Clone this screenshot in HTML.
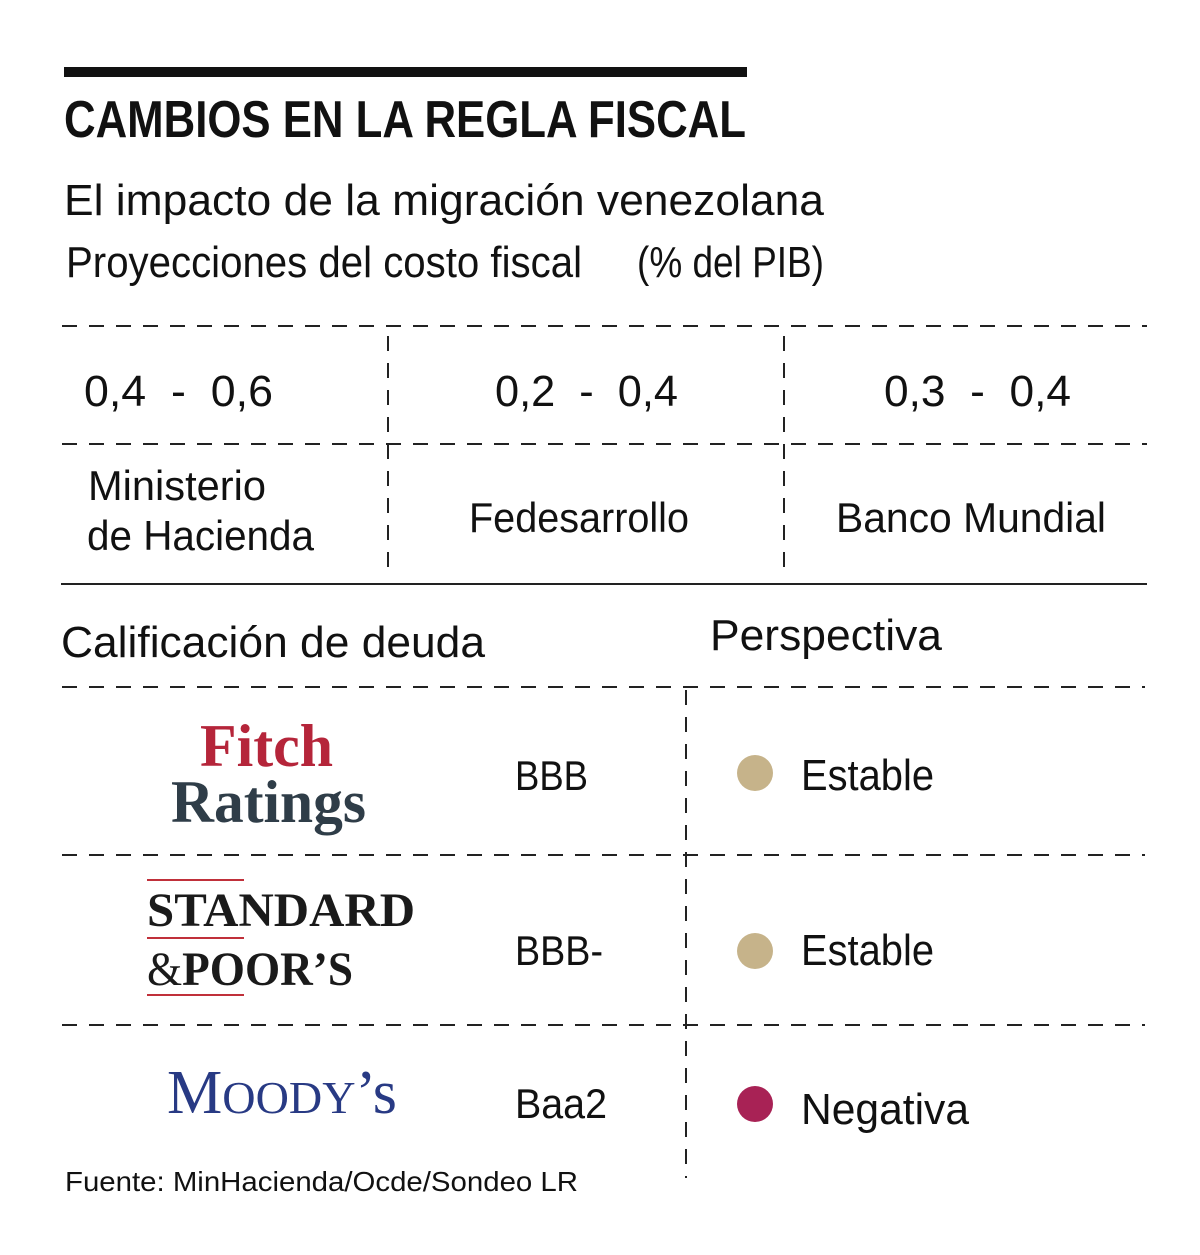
<!DOCTYPE html>
<html><head><meta charset="utf-8"><style>
html,body{margin:0;padding:0;background:#fff;}
svg{display:block;}
.s{font-family:"Liberation Sans",sans-serif;fill:#111;}
.sf{font-family:"Liberation Serif",serif;font-weight:bold;}
.d{stroke:#222;stroke-width:2;stroke-dasharray:15 12;}
</style></head><body>
<svg width="1200" height="1255" viewBox="0 0 1200 1255">
<rect x="64" y="67" width="683" height="10" fill="#111"/>
<text class="s" x="64" y="137" font-size="52" font-weight="bold" textLength="682" lengthAdjust="spacingAndGlyphs">CAMBIOS EN LA REGLA FISCAL</text>
<text class="s" x="64" y="215" font-size="44" textLength="760" lengthAdjust="spacingAndGlyphs">El impacto de la migración venezolana</text>
<text class="s" x="66" y="277" font-size="44" fill="#222" textLength="516" lengthAdjust="spacingAndGlyphs">Proyecciones del costo fiscal</text>
<text class="s" x="637" y="277" font-size="44" fill="#222" textLength="187" lengthAdjust="spacingAndGlyphs">(% del PIB)</text>

<line class="d" x1="62" y1="326" x2="1147" y2="326"/>
<line class="d" x1="62" y1="444" x2="1147" y2="444"/>
<line x1="61" y1="584" x2="1147" y2="584" stroke="#222" stroke-width="2"/>
<line class="d" x1="388" y1="336" x2="388" y2="574"/>
<line class="d" x1="784" y1="336" x2="784" y2="574"/>

<text class="s" x="84" y="406" font-size="44" xml:space="preserve" textLength="189" lengthAdjust="spacingAndGlyphs">0,4  -  0,6</text>
<text class="s" x="495" y="406" font-size="44" xml:space="preserve" textLength="183" lengthAdjust="spacingAndGlyphs">0,2  -  0,4</text>
<text class="s" x="884" y="406" font-size="44" xml:space="preserve" textLength="187" lengthAdjust="spacingAndGlyphs">0,3  -  0,4</text>

<text class="s" x="88" y="500" font-size="42" fill="#222" textLength="178" lengthAdjust="spacingAndGlyphs">Ministerio</text>
<text class="s" x="87" y="550" font-size="42" fill="#222" textLength="227" lengthAdjust="spacingAndGlyphs">de Hacienda</text>
<text class="s" x="469" y="532" font-size="42" fill="#222" textLength="220" lengthAdjust="spacingAndGlyphs">Fedesarrollo</text>
<text class="s" x="836" y="532" font-size="42" fill="#222" textLength="270" lengthAdjust="spacingAndGlyphs">Banco Mundial</text>

<text class="s" x="61" y="657" font-size="44" textLength="424" lengthAdjust="spacingAndGlyphs">Calificación de deuda</text>
<text class="s" x="710" y="650" font-size="44" textLength="232" lengthAdjust="spacingAndGlyphs">Perspectiva</text>

<line class="d" x1="62" y1="687" x2="1145" y2="687"/>
<line class="d" x1="62" y1="855" x2="1145" y2="855"/>
<line class="d" x1="62" y1="1025" x2="1145" y2="1025"/>
<line class="d" x1="686" y1="690" x2="686" y2="1178"/>

<text class="sf" x="200" y="766" font-size="60" fill="#b5253a" textLength="133" lengthAdjust="spacingAndGlyphs">Fitch</text>
<text class="sf" x="171" y="822" font-size="60" fill="#2f3d48" textLength="195" lengthAdjust="spacingAndGlyphs">Ratings</text>

<line x1="147" y1="880" x2="244" y2="880" stroke="#c0303a" stroke-width="2"/>
<text class="sf" x="147" y="926" font-size="48" fill="#1a1a1a" textLength="268" lengthAdjust="spacingAndGlyphs">STANDARD</text>
<line x1="147" y1="938" x2="244" y2="938" stroke="#c0303a" stroke-width="2"/>
<text class="sf" x="147" y="985" font-size="48" fill="#1a1a1a" textLength="206" lengthAdjust="spacingAndGlyphs"><tspan font-weight="normal">&amp;</tspan>POOR’S</text>
<line x1="147" y1="995" x2="244" y2="995" stroke="#c0303a" stroke-width="2"/>

<text x="167" y="1113" font-family="Liberation Serif,serif" fill="#283a84" textLength="230" lengthAdjust="spacingAndGlyphs"><tspan font-size="62">M</tspan><tspan font-size="46">OODY</tspan><tspan font-size="62">’s</tspan></text>

<text class="s" x="515" y="790" font-size="42" fill="#222" textLength="73" lengthAdjust="spacingAndGlyphs">BBB</text>
<text class="s" x="515" y="965" font-size="42" fill="#222" textLength="88" lengthAdjust="spacingAndGlyphs">BBB-</text>
<text class="s" x="515" y="1118" font-size="42" fill="#222" textLength="92" lengthAdjust="spacingAndGlyphs">Baa2</text>

<circle cx="755" cy="773" r="18" fill="#c6b38a"/>
<circle cx="755" cy="951" r="18" fill="#c6b38a"/>
<circle cx="755" cy="1104" r="18" fill="#a82255"/>
<text class="s" x="801" y="790" font-size="44" fill="#222" textLength="133" lengthAdjust="spacingAndGlyphs">Estable</text>
<text class="s" x="801" y="965" font-size="44" fill="#222" textLength="133" lengthAdjust="spacingAndGlyphs">Estable</text>
<text class="s" x="801" y="1124" font-size="44" fill="#222" textLength="168" lengthAdjust="spacingAndGlyphs">Negativa</text>

<text class="s" x="65" y="1191" font-size="28" fill="#222" textLength="513" lengthAdjust="spacingAndGlyphs">Fuente: MinHacienda/Ocde/Sondeo LR</text>
</svg>
</body></html>
